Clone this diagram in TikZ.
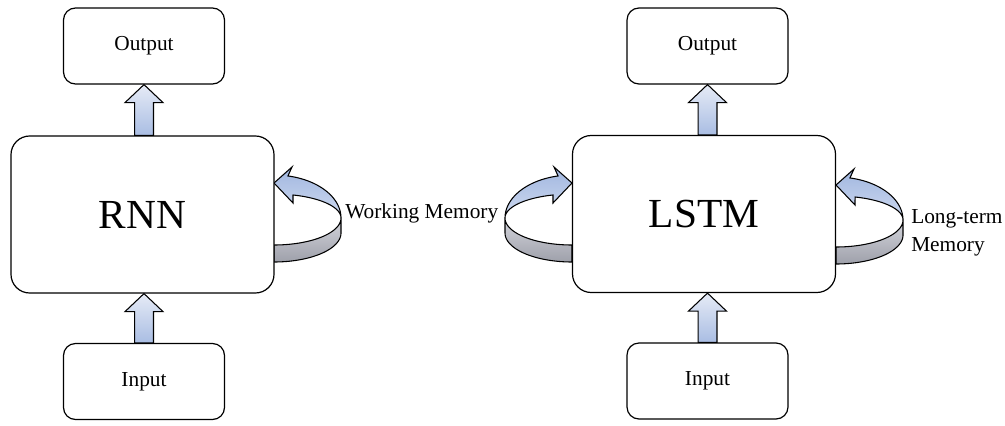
\documentclass[tikz,border=0pt]{standalone}
\usepackage{fontspec}
\setmainfont{Liberation Serif}
\usetikzlibrary{calc}
\definecolor{arrtop}{HTML}{E6EBF6}
\definecolor{arrbot}{HTML}{A9BDE3}
\definecolor{bandtop}{HTML}{A0B6DF}
\definecolor{bandbot}{HTML}{CFDAF0}
\definecolor{graytop}{HTML}{D4D5DC}
\definecolor{graybot}{HTML}{9EA0AA}
\tikzset{
  smallbox/.style={draw=black, line width=0.9pt, fill=white, rounded corners=9pt,
    minimum width=120.75pt, minimum height=57pt, inner sep=0pt, font=\fontsize{16}{19}\selectfont},
  bigbox/.style={draw=black, line width=0.9pt, fill=white, rounded corners=14pt,
    minimum width=197.25pt, minimum height=117.75pt, inner sep=0pt, font=\fontsize{31}{36}\selectfont},
  barrow/.style={draw=black, line width=0.8pt, line join=miter, top color=arrtop, bottom color=arrbot},
  blueband/.style={draw=black, line width=0.8pt, line join=miter, top color=bandtop, bottom color=bandbot},
  grayband/.style={draw=black, line width=0.8pt, top color=graytop, bottom color=graybot},
  lbl/.style={font=\fontsize{16}{21}\selectfont, inner sep=0pt}
}
\newcommand{\memloop}{%
  \draw[grayband] plot[domain=0:-90,samples=40] ({67*cos(\x)},{27*sin(\x)})
    -- plot[domain=-90:0,samples=40] ({67*cos(\x)},{29*sin(\x)-15}) -- cycle;
  \draw[blueband] plot[domain=78:0,samples=40] ({67*cos(\x)},{43*sin(\x)})
    -- plot[domain=0:73.5,samples=40] ({67*cos(\x)},{24*sin(\x)})
    -- (19,15) -- (0,35) -- (18,51) -- cycle;
}
\newcommand{\blockup}[2]{%
  \draw[barrow] let \p1=(#1), \p2=(#2) in
    (\x2-7.1pt,\y1) -- (\x2-7.1pt,\y2-13.5pt) -- (\x2-14.25pt,\y2-13.5pt) -- (\x2,\y2)
    -- (\x2+14.25pt,\y2-13.5pt) -- (\x2+7.1pt,\y2-13.5pt) -- (\x2+7.1pt,\y1) -- cycle;
}
\begin{document}
\begin{tikzpicture}[x=0.75pt,y=0.75pt]
\useasboundingbox (0,0) rectangle (1005,-425);
% memory loops
\begin{scope}[shift={(274,-218)}]\memloop\end{scope}
\begin{scope}[shift={(572,-218)},xscale=-1]\memloop\end{scope}
\begin{scope}[shift={(836,-220)}]\memloop\end{scope}
% boxes
\node[smallbox] (out1) at (144,-46) {Output};
\node[bigbox] (rnn) at (142.5,-214.5) {RNN};
\node[smallbox] (in1) at (144,-381.5) {Input};
\node[smallbox] (out2) at (707.5,-46) {Output};
\node[bigbox] (lstm) at (704,-214) {LSTM};
\node[smallbox] (in2) at (707.5,-381) {Input};
% block arrows
\blockup{rnn.north}{out1.south}
\blockup{in1.north}{rnn.south -| in1.north}
\blockup{lstm.north}{out2.south}
\blockup{in2.north}{lstm.south -| in2.north}
% labels
\node[lbl, anchor=base west] (wm) at (345,-218) {Working Memory};
\node[lbl, anchor=base west] (lt1) at (911,-223) {Long-term};
\node[lbl, anchor=base west] (lt2) at (911,-251) {Memory};
\end{tikzpicture}
\end{document}
